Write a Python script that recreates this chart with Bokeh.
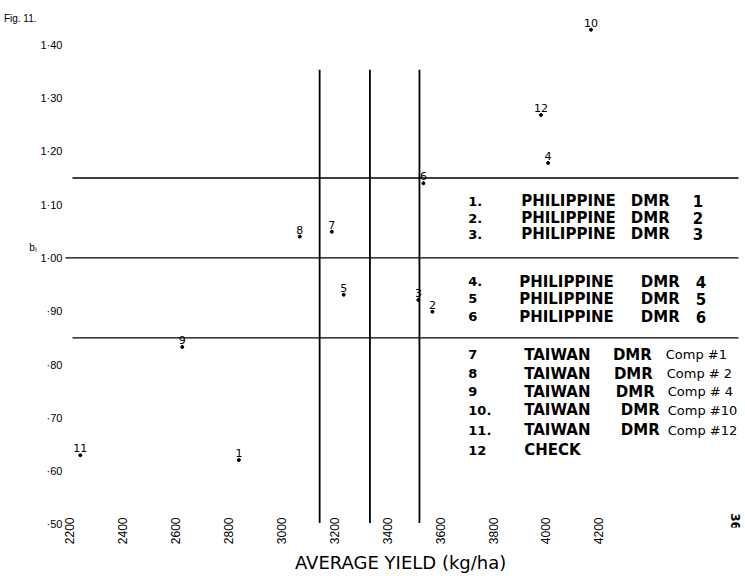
import math
from bokeh.plotting import figure
from bokeh.models import FixedTicker, LinearAxis
from bokeh.core.properties import value
from bokeh.embed import file_html
from bokeh.resources import INLINE

# ---------------- data ----------------
entry_ids = ["1", "2", "3", "4", "5", "6", "7", "8", "9", "10", "11", "12"]
avg_yield = [2840, 3571, 3518, 4008, 3236, 3537, 3191, 3070, 2626, 4170, 2241, 3981]
b_i = [0.621, 0.899, 0.921, 1.178, 0.931, 1.140, 1.049, 1.040, 0.833, 1.428, 0.630, 1.268]

x_ticks = [2200, 2400, 2600, 2800, 3000, 3200, 3400, 3600, 3800, 4000, 4200]
y_ticks = [0.5, 0.6, 0.7, 0.8, 0.9, 1.0, 1.1, 1.2, 1.3, 1.4]
y_tick_labels = ["·50", "·60", "·70", "·80", "·90", "1·00", "1·10", "1·20", "1·30", "1·40"]

yield_ref_lines = [3145, 3335, 3522]
b_ref_lines = [1.15, 1.00, 0.85]

legend_nums = ["1.", "2.", "3.", "4.", "5", "6", "7", "8", "9", "10.", "11.", "12"]
legend_group = ["PHILIPPINE"] * 6 + ["TAIWAN"] * 5 + ["CHECK"]
legend_dmr = ["DMR"] * 11
legend_suffix = ["1", "2", "3", "4", "5", "6",
                 "Comp #1", "Comp # 2", "Comp # 4", "Comp #10", "Comp #12"]

# ---------------- layout (page pixels -> data, used for annotation placement only) ----------------
W, H = 745, 576
FRAME_L, FRAME_R = 62, 742
FRAME_T, FRAME_B = 8, 525
PX_PER_X = 0.2655                    # pixels per kg/ha
Y_140_PX, Y_050_PX = 44, 522
PX_PER_B = (Y_050_PX - Y_140_PX) / 0.9
X0 = 2200 - (67 - FRAME_L) / PX_PER_X
X1 = X0 + (FRAME_R - FRAME_L) / PX_PER_X
Y1 = 1.40 + (Y_140_PX - FRAME_T) / PX_PER_B
Y0 = 1.40 - (FRAME_B - Y_140_PX) / PX_PER_B


def sx(px):
    return X0 + (px - FRAME_L) / PX_PER_X


def sy(py):
    return Y1 - (py - FRAME_T) / PX_PER_B


FONT = value("DejaVu Sans")

p = figure(width=W, height=H, output_backend="svg", toolbar_location=None,
           x_range=(X0, X1), y_range=(Y0, Y1),
           min_border_left=FRAME_L, min_border_right=W - FRAME_R,
           min_border_top=FRAME_T, min_border_bottom=0)
p.background_fill_color = "white"
p.border_fill_color = "white"
p.outline_line_color = None
p.grid.visible = False

# axes
p.xaxis.ticker = FixedTicker(ticks=x_ticks)
p.xaxis.major_label_orientation = math.pi / 2
p.xaxis.major_label_standoff = -10
p.xaxis.major_label_text_font = "Liberation Sans"
p.xaxis.major_label_text_font_size = "12px"
p.xaxis.major_label_text_color = "black"
p.xaxis.axis_label = "AVERAGE  YIELD (kg/ha)"
p.xaxis.axis_label_text_font = "DejaVu Sans"
p.xaxis.axis_label_text_font_size = "18px"
p.xaxis.axis_label_text_font_style = "normal"
p.xaxis.axis_label_text_line_height = 1.0
p.xaxis.axis_label_text_color = "black"
p.xaxis.axis_label_standoff = 5

p.yaxis.ticker = FixedTicker(ticks=y_ticks)
p.yaxis.major_label_overrides = dict(zip(y_ticks, y_tick_labels))
p.yaxis.major_label_standoff = 2
p.yaxis.major_label_text_font = "Liberation Sans"
p.yaxis.major_label_text_font_size = "11px"
p.yaxis.major_label_text_color = "black"

# outer left axis carrying the figure number and the b_i title
fig_tag_b = sy(18)
btitle_b = sy(246)
outer = LinearAxis(ticker=FixedTicker(ticks=[btitle_b, fig_tag_b]),
                   major_label_overrides={btitle_b: "bᵢ", fig_tag_b: "Fig. 11."},
                   major_label_standoff=1, major_label_text_font="Liberation Sans",
                   major_label_text_font_size="10px", major_label_text_color="black")
p.add_layout(outer, "left")

for ax in (p.xaxis[0], p.yaxis[0], outer):
    ax.axis_line_color = None
    ax.major_tick_line_color = None
    ax.minor_tick_line_color = None
    ax.major_tick_out = 0
    ax.major_tick_in = 0
    ax.minor_tick_out = 0
    ax.minor_tick_in = 0

# reference lines
h_x0 = [sx(70), sx(63), sx(70)]
h_x1 = [sx(738)] * 3
p.segment(x0=h_x0, y0=b_ref_lines, x1=h_x1, y1=b_ref_lines, line_color="black", line_width=1.4)
p.segment(x0=yield_ref_lines, y0=[1.353] * 3, x1=yield_ref_lines, y1=[0.503] * 3,
          line_color="black", line_width=1.8)

# points and their numbers
p.scatter(avg_yield, b_i, size=3, color="black")
p.text(avg_yield, b_i, text=entry_ids, text_font=FONT, text_font_size="11px",
       text_align="center", text_baseline="bottom", y_offset=-3, text_color="black")

# legend key
row_px = [200, 217, 233, 280, 297, 315, 353, 372, 390, 408, 428, 448]
name_px = [520] * 3 + [518] * 3 + [523] * 6
dmr_px = [630] * 3 + [640] * 3 + [612, 613, 615, 620, 620]
suf_px = [692] * 3 + [695] * 3 + [665, 666, 667, 667, 667]
rows_y = [sy(v) for v in row_px]
p.text([sx(467)] * 12, rows_y, text=legend_nums, text_font=FONT, text_font_size="13px",
       text_font_style="bold", text_baseline="middle", text_color="black")
p.text([sx(v) for v in name_px], rows_y, text=legend_group, text_font=FONT,
       text_font_size="15px", text_font_style="bold", text_baseline="middle", text_color="black")
p.text([sx(v) for v in dmr_px], rows_y[:11], text=legend_dmr, text_font=FONT,
       text_font_size="15px", text_font_style="bold", text_baseline="middle", text_color="black")
p.text([sx(v) for v in suf_px[:6]], rows_y[:6], text=legend_suffix[:6], text_font=FONT,
       text_font_size="15px", text_font_style="bold", text_baseline="middle", text_color="black")
p.text([sx(v) for v in suf_px[6:]], rows_y[6:11], text=legend_suffix[6:], text_font=FONT,
       text_font_size="13px", text_baseline="middle", text_color="black")

# page number
p.text([sx(735)], [sy(519)], text=["36"], text_font=FONT, text_font_size="12px",
       text_font_style="bold", angle=-math.pi / 2, text_align="center",
       text_baseline="middle", text_color="black")

open("out.html", "w").write(file_html(p, INLINE))
